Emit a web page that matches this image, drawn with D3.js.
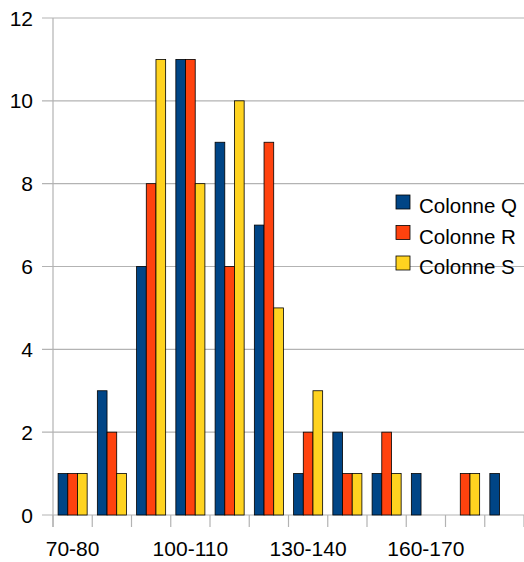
<!DOCTYPE html>
<html>
<head>
<meta charset="utf-8">
<script src="https://cdn.jsdelivr.net/npm/d3@7"></script>
<style>
  body { margin: 0; background: #fff; }
  text { font-family: "Liberation Sans", Arial, sans-serif; fill: #000; }
</style>
</head>
<body>
<svg id="chart"></svg>
<script>
const categories = ["70-80","80-90","90-100","100-110","110-120","120-130","130-140","140-150","150-160","160-170","170-180","180-190"];
const seriesNames = ["Colonne Q","Colonne R","Colonne S"];
const colonneQ = [1,3,6,11,9,7,1,2,1,1,0,1];
const colonneR = [1,2,8,11,6,9,2,1,2,0,1,0];
const colonneS = [1,1,11,8,10,5,3,1,1,0,1,0];
const yTicks = [0,2,4,6,8,10,12];
const shownLabels = ["70-80","100-110","130-140","160-170"];
const colors = ["#004586","#ff420e","#ffd320"];

const W = 524, H = 562;
const svg = d3.select("#chart").attr("width", W).attr("height", H);

const mLeft = 53, mRight = 524, mTop = 18, mBottom = 515;

const x = d3.scaleBand().domain(categories).range([mLeft, mRight]).paddingInner(0).paddingOuter(0);
const xs = d3.scaleBand().domain(seriesNames)
    .range([x.bandwidth()*0.13, x.bandwidth()*0.87]);
const y = d3.scaleLinear().domain([0, 12]).range([mBottom, mTop]);

const rows = [colonneQ, colonneR, colonneS];

// gridlines
svg.append("g").selectAll("line").data(yTicks).enter().append("line")
    .attr("x1", mLeft - 11).attr("x2", mRight)
    .attr("y1", d => y(d)).attr("y2", d => y(d))
    .attr("stroke", "#b3b3b3").attr("stroke-width", 1.2);

// y axis line
svg.append("line")
    .attr("x1", mLeft).attr("x2", mLeft)
    .attr("y1", mTop).attr("y2", mBottom + 12)
    .attr("stroke", "#b3b3b3").attr("stroke-width", 1.2);

// x ticks
const xt = categories.map(c => x(c)).concat([mRight]);
svg.append("g").selectAll("line").data(xt).enter().append("line")
    .attr("x1", d => d).attr("x2", d => d)
    .attr("y1", mBottom).attr("y2", mBottom + 12)
    .attr("stroke", "#b3b3b3").attr("stroke-width", 1.2);

// y labels
svg.append("g").selectAll("text").data(yTicks).enter().append("text")
    .attr("x", 33).attr("y", d => y(d))
    .attr("dy", "0.36em")
    .attr("text-anchor", "end")
    .attr("font-size", 21)
    .text(d => d);

// x labels
svg.append("g").selectAll("text").data(shownLabels).enter().append("text")
    .attr("x", d => x(d) + x.bandwidth()/2)
    .attr("y", 556)
    .attr("text-anchor", "middle")
    .attr("font-size", 21)
    .text(d => d);

// bars
seriesNames.forEach((s, i) => {
    svg.append("g").selectAll("rect")
        .data(categories.map((c, j) => ({c: c, v: rows[i][j]})).filter(d => d.v > 0))
        .enter().append("rect")
        .attr("x", d => x(d.c) + xs(s))
        .attr("y", d => y(d.v))
        .attr("width", xs.bandwidth())
        .attr("height", d => y(0) - y(d.v))
        .attr("fill", colors[i])
        .attr("stroke", "#000")
        .attr("stroke-width", 0.8);
});

// legend
const lg = svg.append("g").attr("transform", "translate(396,195)");
seriesNames.forEach((s, i) => {
    const row = lg.append("g").attr("transform", `translate(0,${i*30.5})`);
    row.append("rect").attr("width", 14).attr("height", 14)
        .attr("fill", colors[i]).attr("stroke", "#000").attr("stroke-width", 0.8);
    row.append("text").attr("x", 23).attr("y", 18)
        .attr("font-size", 20.5).text(s);
});
</script>
</body>
</html>
